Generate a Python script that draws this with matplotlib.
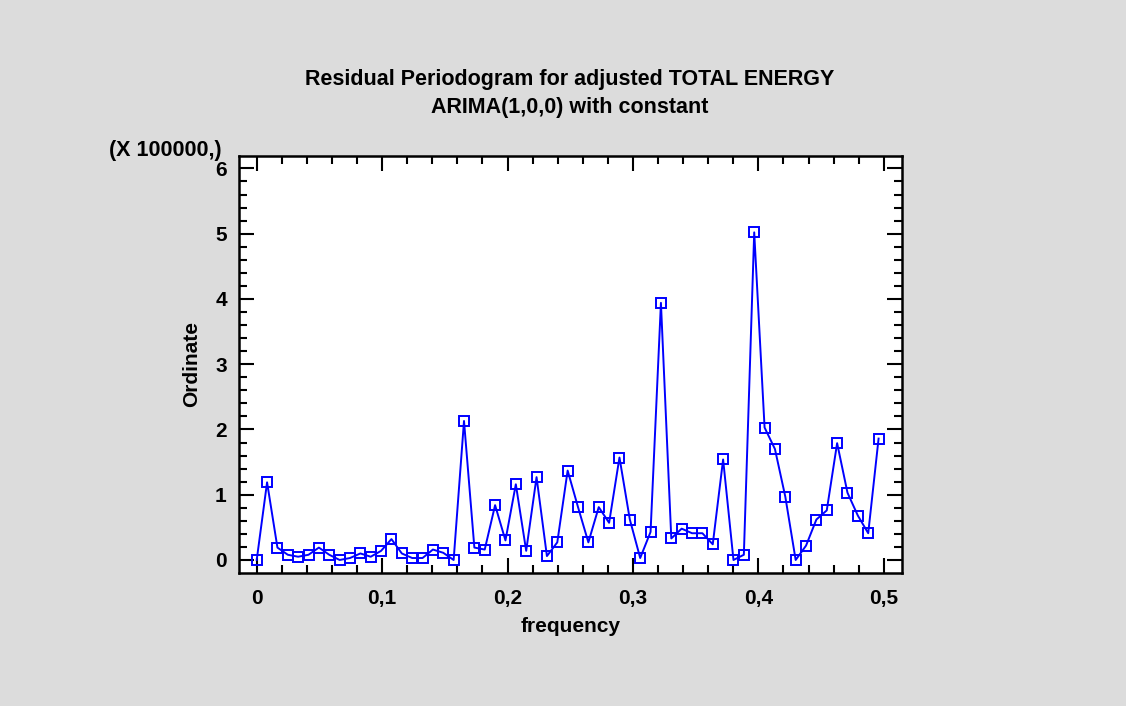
import numpy as np
import matplotlib
matplotlib.use("Agg")
import matplotlib.pyplot as plt
from matplotlib.ticker import MultipleLocator, FuncFormatter

# periodogram ordinates (x 100000), Fourier frequencies k/121
k = np.arange(61)
frequency = k / 121.0
ordinate = [0.00, 1.19, 0.19, 0.08, 0.05, 0.08, 0.19, 0.08, 0.00, 0.03,
            0.10, 0.05, 0.14, 0.32, 0.10, 0.03, 0.03, 0.16, 0.11, 0.00,
            2.13, 0.19, 0.16, 0.84, 0.30, 1.16, 0.14, 1.27, 0.06, 0.27,
            1.37, 0.81, 0.27, 0.81, 0.57, 1.57, 0.62, 0.03, 0.43, 3.94,
            0.33, 0.48, 0.41, 0.41, 0.24, 1.54, 0.00, 0.08, 5.02, 2.03,
            1.70, 0.97, 0.00, 0.22, 0.62, 0.76, 1.79, 1.03, 0.68, 0.41,
            1.86]

plt.rcParams['font.family'] = ['Liberation Sans', 'DejaVu Sans']
plt.rcParams['font.weight'] = 'bold'

fig = plt.figure(figsize=(11.26, 7.06), dpi=100, facecolor='#dcdcdc')
ax = fig.add_axes([0.2125, 0.1888, 0.5883, 0.5902])
ax.set_facecolor('white')

ax.plot(frequency, ordinate, color='#0000ff', lw=1.4, marker='s',
        markersize=6.5, markerfacecolor='none', markeredgecolor='#0000ff',
        markeredgewidth=1.4)

ax.set_xlim(-0.0139, 0.5143)
ax.set_ylim(-0.195, 6.19)

ax.xaxis.set_major_locator(MultipleLocator(0.1))
ax.xaxis.set_minor_locator(MultipleLocator(0.02))
ax.yaxis.set_major_locator(MultipleLocator(1))
ax.yaxis.set_minor_locator(MultipleLocator(0.2))
ax.xaxis.set_major_formatter(FuncFormatter(lambda v, p: ('%g' % round(v, 2)).replace('.', ',')))
ax.yaxis.set_major_formatter(FuncFormatter(lambda v, p: '%d' % round(v)))

ax.tick_params(which='both', direction='in', top=True, right=True,
               labelsize=15, width=1.5, colors='black')
ax.tick_params(which='major', length=11)
ax.tick_params(axis='x', which='major', pad=12)
ax.tick_params(axis='y', which='major', pad=9)
ax.tick_params(which='minor', length=6)
for sp in ax.spines.values():
    sp.set_linewidth(1.8)

ax.set_xlabel('frequency', fontsize=15, fontweight='bold', labelpad=6)
ax.set_ylabel('Ordinate', fontsize=15, fontweight='bold', labelpad=10)

fig.text(0.506, 0.8676, 'Residual Periodogram for adjusted TOTAL ENERGY\nARIMA(1,0,0) with constant',
         ha='center', va='center', fontsize=15.5, fontweight='bold', linespacing=1.45)
fig.text(0.097, 0.787, '(X 100000,)', ha='left', va='center',
         fontsize=15.5, fontweight='bold')

fig.savefig('out.png', dpi=100, facecolor=fig.get_facecolor())
